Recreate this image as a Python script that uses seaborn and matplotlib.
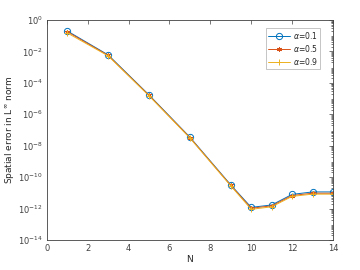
import numpy as np
import pandas as pd
import matplotlib
matplotlib.use("Agg")
import matplotlib.pyplot as plt
import seaborn as sns

# valores
N = [1, 3, 5, 7, 9, 10, 11, 12, 13, 14]
err_01 = [0.2, 6e-3, 1.7e-5, 3.5e-8, 3.2e-11, 1.2e-12, 1.7e-12, 8e-12, 1.15e-11, 1.15e-11]
err_05 = [0.18, 5.6e-3, 1.6e-5, 3.3e-8, 3.0e-11, 1.05e-12, 1.5e-12, 6.8e-12, 9.5e-12, 9.5e-12]
err_09 = [0.15, 5.2e-3, 1.5e-5, 3.1e-8, 2.8e-11, 0.9e-12, 1.3e-12, 6.0e-12, 8.3e-12, 8.3e-12]
labels = [r"$\alpha$=0.1", r"$\alpha$=0.5", r"$\alpha$=0.9"]

df = pd.DataFrame({"N": N, "a1": err_01, "a5": err_05, "a9": err_09})

sns.set_style("white")
plt.rcParams["font.family"] = ["DejaVu Sans"]

fig = plt.figure(figsize=(3.6, 2.7), dpi=100)
ax = fig.add_axes([0.13, 0.111, 0.795, 0.815])

sns.lineplot(data=df, x="N", y="a1", ax=ax, color="#0072BD", marker="o", mfc="none",
             mec="#0072BD", ms=4.5, mew=0.7, lw=0.7, label=labels[0])
sns.lineplot(data=df, x="N", y="a5", ax=ax, color="#D95319", marker=(6, 2, 0),
             mec="#D95319", ms=3.5, mew=0.7, lw=0.7, label=labels[1])
sns.lineplot(data=df, x="N", y="a9", ax=ax, color="#EDB120", marker="+",
             mec="#EDB120", ms=4.5, mew=0.7, lw=0.7, label=labels[2])

ax.set_yscale("log")
ax.set_xlim(0, 14)
ax.set_ylim(1e-14, 1)
ax.set_xticks(range(0, 15, 2))
ax.set_yticks([10.0 ** k for k in range(-14, 1, 2)])
ax.yaxis.set_minor_locator(matplotlib.ticker.LogLocator(base=10, subs=np.arange(2, 10), numticks=30))
ax.yaxis.set_minor_formatter(matplotlib.ticker.NullFormatter())
ax.tick_params(which="both", direction="in", top=True, right=True, labelsize=6,
               colors="#404040", width=0.5, pad=3)
ax.tick_params(which="major", length=3)
ax.tick_params(which="minor", length=1.5)
for s in ax.spines.values():
    s.set_linewidth(0.6)
    s.set_color("#404040")

ax.set_xlabel("N", fontsize=6.5, labelpad=1, color="#262626")
ax.set_ylabel(r"Spatial error in L$^{\infty}$ norm", fontsize=6.5, labelpad=1, color="#262626")

leg = ax.legend(loc="upper right", fontsize=5.5, frameon=True, fancybox=False,
                edgecolor="#999999", handlelength=2.8, borderpad=0.3, labelspacing=0.25,
                handletextpad=0.4, borderaxespad=0, bbox_to_anchor=(0.955, 0.965))
leg.get_frame().set_linewidth(0.5)

fig.savefig("out.png", dpi=100)
